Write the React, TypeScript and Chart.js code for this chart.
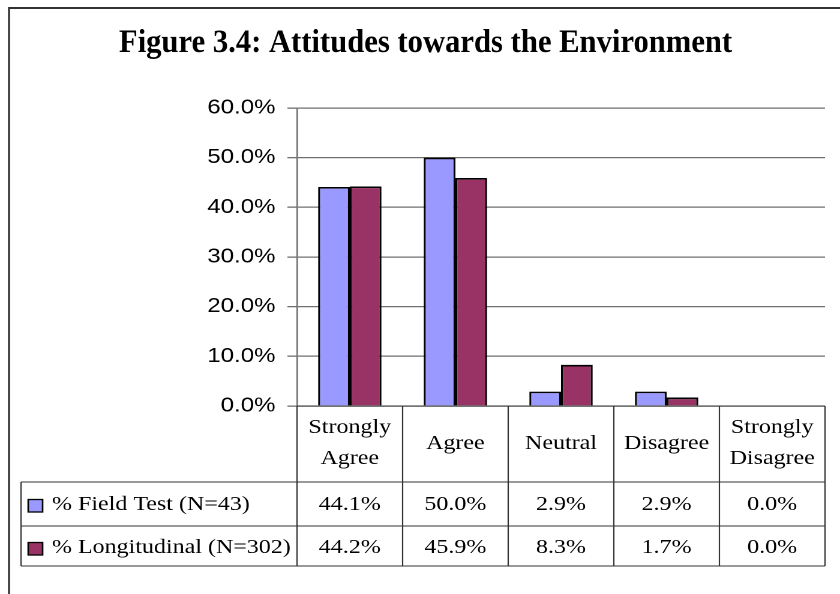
import React, { useEffect, useRef } from "react";
import { Chart, registerables } from "chart.js";

Chart.register(...registerables);

const titleText = "Figure 3.4: Attitudes towards the Environment";
const categories = ["Strongly Agree", "Agree", "Neutral", "Disagree", "Strongly Disagree"];
const seriesNames = ["% Field Test (N=43)", "% Longitudinal (N=302)"];
const fieldTest = [44.1, 50.0, 2.9, 2.9, 0.0];
const longitudinal = [44.2, 45.9, 8.3, 1.7, 0.0];
const seriesColors = ["#9999FF", "#993366"];
const yTicks = [0, 10, 20, 30, 40, 50, 60];

const CANVAS_W = 700;
const CANVAS_H = 594;
const STRETCH = 1.2;

const SERIF = "'Liberation Serif', 'Times New Roman', serif";
const SANS = "'Liberation Sans', Arial, sans-serif";

const headerLines = categories.map((c) =>
  c.startsWith("Strongly ") ? ["Strongly", c.slice(9)] : [c]
);

const decorPlugin = {
  id: "decor",
  beforeDraw(chart: any) {
    const ctx = chart.ctx;
    ctx.save();
    ctx.fillStyle = "#ffffff";
    ctx.fillRect(0, 0, chart.width, chart.height);
    // outer frame (left + top, cut by the page edges)
    ctx.strokeStyle = "#333333";
    ctx.lineWidth = 2;
    ctx.beginPath();
    ctx.moveTo(7.5, 8);
    ctx.lineTo(chart.width + 5, 8);
    ctx.stroke();
    ctx.lineWidth = 1.7;
    ctx.beginPath();
    ctx.moveTo(7.5, 7);
    ctx.lineTo(7.5, chart.height + 5);
    ctx.stroke();
    // title
    ctx.fillStyle = "#000";
    ctx.font = `bold 33px ${SERIF}`;
    const w = ctx.measureText(titleText).width;
    ctx.translate(354.6, 52);
    ctx.scale(511 / w, 1);
    ctx.textAlign = "center";
    ctx.textBaseline = "alphabetic";
    ctx.fillText(titleText, 0, 0);
    ctx.restore();
  },
  afterDraw(chart: any) {
    const ctx = chart.ctx;
    const { left, right, bottom } = chart.chartArea;
    const n = categories.length;
    const cw = (right - left) / n;
    const legendLeft = 17.5;
    const headerBottom = bottom + 76;
    const row1Bottom = bottom + 120;
    const row2Bottom = bottom + 160;
    const datasets = chart.data.datasets;

    ctx.save();
    ctx.strokeStyle = "#333333";
    ctx.lineWidth = 1.1;
    ctx.beginPath();
    // axis line / table top
    ctx.moveTo(left, bottom);
    ctx.lineTo(right, bottom);
    [headerBottom, row1Bottom, row2Bottom].forEach((y) => {
      ctx.moveTo(legendLeft, y);
      ctx.lineTo(right, y);
    });
    for (let i = 0; i <= n; i++) {
      const x = left + i * cw;
      ctx.moveTo(x, bottom);
      ctx.lineTo(x, row2Bottom);
    }
    ctx.moveTo(legendLeft, headerBottom);
    ctx.lineTo(legendLeft, row2Bottom);
    ctx.stroke();

    ctx.fillStyle = "#000";
    ctx.font = `20px ${SERIF}`;
    ctx.textAlign = "center";
    ctx.textBaseline = "alphabetic";
    for (let i = 0; i < n; i++) {
      const cx = chart.scales.x.getPixelForValue(i);
      const lines = headerLines[i];
      if (lines.length === 1) {
        ctx.fillText(lines[0], cx, bottom + 43);
      } else {
        ctx.fillText(lines[0], cx, bottom + 27);
        ctx.fillText(lines[1], cx, bottom + 58);
      }
    }
    const baselines = [headerBottom + 28, row1Bottom + 27];
    datasets.forEach((ds: any, r: number) => {
      const by = baselines[r];
      for (let i = 0; i < n; i++) {
        const cx = chart.scales.x.getPixelForValue(i);
        ctx.fillStyle = "#000";
        ctx.textAlign = "center";
        ctx.fillText(`${Number(ds.data[i]).toFixed(1)}%`, cx, by);
      }
      // legend key
      ctx.fillStyle = ds.backgroundColor;
      ctx.fillRect(23.5, by - 10.5, 12, 12.5);
      ctx.strokeStyle = "#000";
      ctx.lineWidth = 1.3;
      ctx.strokeRect(23.5, by - 10.5, 12, 12.5);
      ctx.fillStyle = "#000";
      ctx.textAlign = "left";
      ctx.fillText(ds.label, 43.3, by);
    });
    ctx.restore();
  },
};

export default function App() {
  const canvasRef = useRef<HTMLCanvasElement | null>(null);

  useEffect(() => {
    if (!canvasRef.current) return;
    Chart.defaults.color = "#000";
    const chart = new Chart(canvasRef.current, {
      type: "bar",
      data: {
        labels: categories,
        datasets: [
          {
            label: seriesNames[0],
            data: fieldTest,
            backgroundColor: seriesColors[0],
            borderColor: "#000",
            borderWidth: 1.7,
            categoryPercentage: 0.6,
            barPercentage: 1.0,
          },
          {
            label: seriesNames[1],
            data: longitudinal,
            backgroundColor: seriesColors[1],
            borderColor: "#000",
            borderWidth: 1.7,
            categoryPercentage: 0.6,
            barPercentage: 1.0,
          },
        ],
      },
      options: {
        responsive: false,
        animation: false,
        devicePixelRatio: 2,
        layout: { padding: { top: 108, bottom: 188, left: 0, right: 12.5 } },
        plugins: {
          legend: { display: false },
          title: { display: false },
          tooltip: { enabled: false },
        },
        scales: {
          x: { display: false },
          y: {
            min: yTicks[0],
            max: yTicks[yTicks.length - 1],
            afterFit: (scale: any) => {
              scale.width = 247.5;
            },
            afterBuildTicks: (scale: any) => {
              scale.ticks = yTicks.map((v) => ({ value: v }));
            },
            ticks: {
              padding: 10,
              color: "#000",
              font: { family: SANS, size: 20 },
              callback: (v: any) => `${Number(v).toFixed(1)}%`,
            },
            grid: {
              color: "#707070",
              lineWidth: 1.3,
              tickLength: 8,
              drawTicks: true,
            },
            border: { display: true, color: "#707070", width: 1.3 },
          },
        },
      },
      plugins: [decorPlugin],
    });
    return () => chart.destroy();
  }, []);

  return (
    <div
      style={{
        position: "absolute",
        left: 0,
        top: 0,
        width: CANVAS_W,
        height: CANVAS_H,
        transform: `scaleX(${STRETCH})`,
        transformOrigin: "0 0",
      }}
    >
      <canvas ref={canvasRef} width={CANVAS_W} height={CANVAS_H} />
    </div>
  );
}
